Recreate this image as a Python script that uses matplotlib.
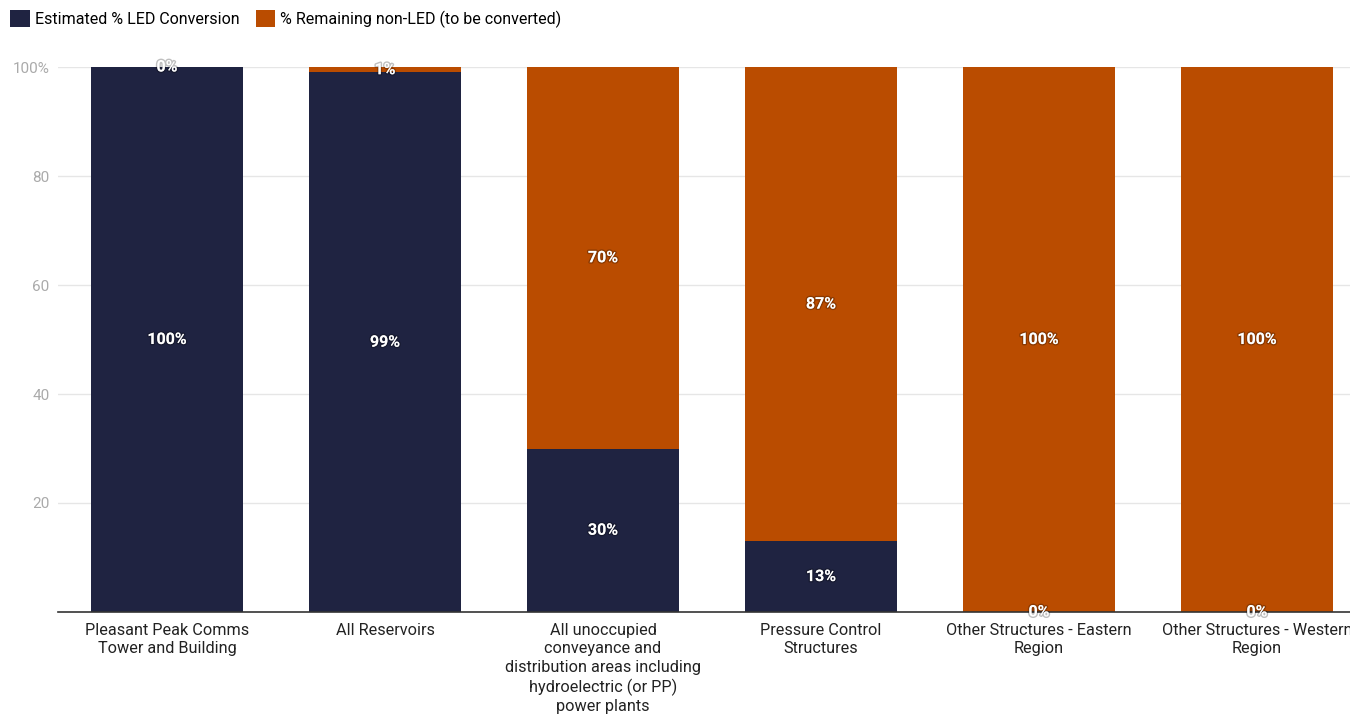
import matplotlib.pyplot as plt
import matplotlib.patheffects as pe
from matplotlib.patches import Patch
import numpy as np

plt.rcParams['font.family'] = ['Roboto', 'DejaVu Sans']

categories = [
    "Pleasant Peak Comms\nTower and Building",
    "All Reservoirs",
    "All unoccupied\nconveyance and\ndistribution areas including\nhydroelectric (or PP)\npower plants",
    "Pressure Control\nStructures",
    "Other Structures - Eastern\nRegion",
    "Other Structures - Western\nRegion",
]
led_pct = [100, 99, 30, 13, 0, 0]
remaining_pct = [0, 1, 70, 87, 100, 100]
series_names = ["Estimated % LED Conversion", "% Remaining non-LED (to be converted)"]
yticks = [20, 40, 60, 80, 100]

navy = "#1f2341"
orange = "#ba4c00"

fig = plt.figure(figsize=(13.5, 7.15), dpi=100)
ax = fig.add_axes([58 / 1350, 103 / 715, 1308 / 1350, 545 / 715])

x = np.arange(len(categories))
w = 0.7
ax.bar(x, led_pct, width=w, color=navy, zorder=2)
ax.bar(x, remaining_pct, width=w, bottom=led_pct, color=orange, zorder=2)

# value labels centred in each segment
shadow = [pe.withStroke(linewidth=2.0, foreground=(0, 0, 0, 0.25))]
for i in range(len(categories)):
    for bottom, val in ((0, led_pct[i]), (led_pct[i], remaining_pct[i])):
        ax.text(x[i], bottom + val / 2, f"{val}%", ha="center", va="center",
                color="white", fontsize=11.5, fontweight="bold",
                path_effects=shadow, zorder=5, clip_on=False)

ax.set_xlim(-0.5, len(categories) - 0.5)
ax.set_ylim(0, 100)
ax.set_yticks(yticks)
ax.set_yticklabels([f"{t}" if t != 100 else "100%" for t in yticks])
ax.set_xticks(x)
ax.set_xticklabels(categories, fontsize=11.7, color="#222222", linespacing=1.28)
ax.tick_params(axis="y", length=0, labelsize=11, labelcolor="#aaaaaa", pad=6)
ax.tick_params(axis="x", length=0, pad=8)
ax.grid(axis="y", color="#e6e6e6", linewidth=1, zorder=0)
for side in ("top", "right", "left"):
    ax.spines[side].set_visible(False)
ax.spines["bottom"].set_color("#333333")
ax.spines["bottom"].set_linewidth(1.2)
ax.spines["bottom"].set_zorder(3)

handles = [Patch(facecolor=navy), Patch(facecolor=orange)]
fig.legend(handles, series_names, loc="upper left", bbox_to_anchor=(0.0, 1.0),
           ncol=2, frameon=False, fontsize=11.5, handlelength=1.2,
           handleheight=1.2, handletextpad=0.35, columnspacing=1.0,
           borderaxespad=0.25)

fig.savefig("out.png", dpi=100)
